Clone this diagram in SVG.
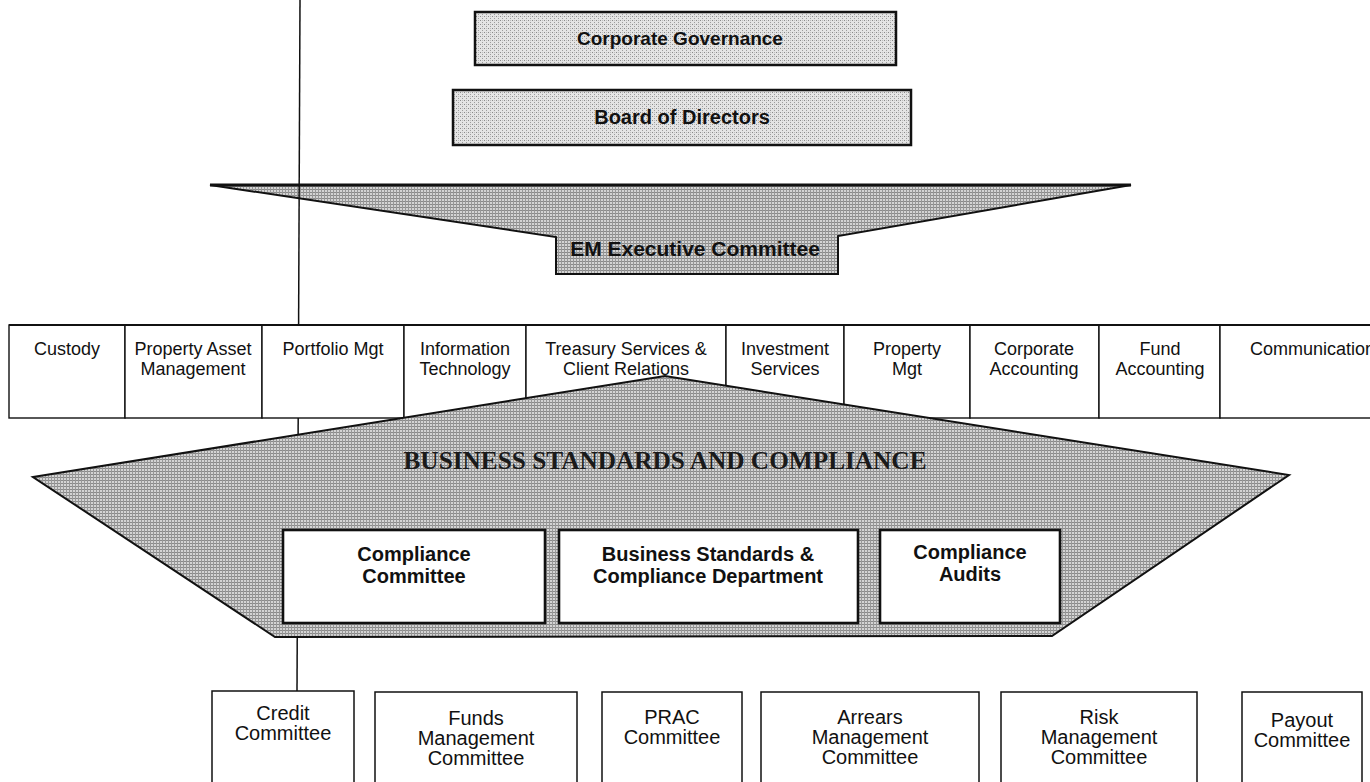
<svg xmlns="http://www.w3.org/2000/svg" width="1370" height="782" viewBox="0 0 1370 782">
<defs>
<pattern id="meshLight" width="4" height="4" patternUnits="userSpaceOnUse">
<rect width="4" height="4" fill="#e4e4e4"/>
<rect x="0" y="0" width="1" height="1" fill="#8a8a8a"/>
<rect x="2" y="2" width="1" height="1" fill="#9c9c9c"/>
<rect x="2" y="0" width="1" height="1" fill="#bdbdbd"/>
</pattern>
<pattern id="meshDark" width="3" height="3" patternUnits="userSpaceOnUse">
<rect width="3" height="3" fill="#d4d4d4"/>
<rect x="0" y="0" width="3" height="1" fill="#8a8a8a"/>
<rect x="0" y="0" width="1" height="3" fill="#989898"/>
</pattern>
<style>
.topbox{fill:url(#meshLight);stroke:#111;stroke-width:2.5}
.exec{fill:url(#meshDark);stroke:#111;stroke-width:2}
.big{fill:url(#meshDark);stroke:#111;stroke-width:2}
.dept{fill:#fff;stroke:#111;stroke-width:1.4}
.inner{fill:#fff;stroke:#111;stroke-width:2.6}
.comm{fill:#fff;stroke:#111;stroke-width:1.5}
.conn{stroke:#111;stroke-width:1.5;fill:none}
.tb{font-family:"Liberation Sans",Arial,sans-serif;font-weight:bold;font-size:20px;fill:#111;text-anchor:middle}
.td{font-family:"Liberation Sans",Arial,sans-serif;font-size:18px;fill:#111;text-anchor:middle}
.tc{font-family:"Liberation Sans",Arial,sans-serif;font-size:20px;fill:#111;text-anchor:middle}
.tbig{font-family:"Liberation Serif","Times New Roman",serif;font-weight:bold;font-size:26px;fill:#1a1a1a;text-anchor:middle}
</style>
</defs>
<rect width="1370" height="782" fill="#fff"/>

<g id="corporate-governance">
<rect class="topbox" x="475" y="12" width="421" height="53"/>
<text class="tb" x="680" y="45" style="font-size:19px">Corporate Governance</text>
</g>
<g id="board-of-directors">
<rect class="topbox" x="453" y="90" width="458" height="55"/>
<text class="tb" x="682" y="124">Board of Directors</text>
</g>
<g id="em-executive-committee">
<polygon class="exec" points="210,185 1131,185 838,236 838,274 556,274 556,237"/>
<line x1="210" y1="185" x2="1131" y2="185" stroke="#111" stroke-width="3"/>
<text class="tb" x="695" y="256" style="font-size:21px">EM Executive Committee</text>
</g>

<g id="connectors">
<line class="conn" x1="300" y1="0" x2="297" y2="691"/>
</g>

<g id="custody"><rect class="dept" x="9" y="325" width="116" height="93"/><text class="td" x="67" y="355">Custody</text></g>
<g id="property-asset-management"><rect class="dept" x="125" y="325" width="137" height="93"/><text class="td" x="193" y="355">Property Asset</text><text class="td" x="193" y="375">Management</text></g>
<g id="portfolio-mgt"><rect class="dept" x="262" y="325" width="142" height="93"/><text class="td" x="333" y="355">Portfolio Mgt</text></g>
<g id="information-technology"><rect class="dept" x="404" y="325" width="122" height="93"/><text class="td" x="465" y="355">Information</text><text class="td" x="465" y="375">Technology</text></g>
<g id="treasury-services"><rect class="dept" x="526" y="325" width="200" height="93"/><text class="td" x="626" y="355">Treasury Services &amp;</text><text class="td" x="626" y="375">Client Relations</text></g>
<g id="investment-services"><rect class="dept" x="726" y="325" width="118" height="93"/><text class="td" x="785" y="355">Investment</text><text class="td" x="785" y="375">Services</text></g>
<g id="property-mgt"><rect class="dept" x="844" y="325" width="126" height="93"/><text class="td" x="907" y="355">Property</text><text class="td" x="907" y="375">Mgt</text></g>
<g id="corporate-accounting"><rect class="dept" x="970" y="325" width="129" height="93"/><text class="td" x="1034" y="355">Corporate</text><text class="td" x="1034" y="375">Accounting</text></g>
<g id="fund-accounting"><rect class="dept" x="1099" y="325" width="121" height="93"/><text class="td" x="1160" y="355">Fund</text><text class="td" x="1160" y="375">Accounting</text></g>
<g id="communication"><rect class="dept" x="1220" y="325" width="170" height="93"/><text class="td" x="1250" y="355" style="text-anchor:start">Communicatior</text></g>
<line x1="9" y1="325" x2="1370" y2="325" stroke="#111" stroke-width="2"/>

<g id="business-standards-and-compliance">
<polygon class="big" points="33,477 665,376 1289,475 1052,636 275,637"/>
<text class="tbig" x="665" y="469" textLength="523" lengthAdjust="spacingAndGlyphs">BUSINESS STANDARDS AND COMPLIANCE</text>
</g>
<g id="compliance-committee">
<rect class="inner" x="283" y="530" width="262" height="93"/>
<text class="tb" x="414" y="561">Compliance</text><text class="tb" x="414" y="583">Committee</text>
</g>
<g id="bs-compliance-department">
<rect class="inner" x="559" y="530" width="299" height="93"/>
<text class="tb" x="708" y="561">Business Standards &amp;</text><text class="tb" x="708" y="583">Compliance Department</text>
</g>
<g id="compliance-audits">
<rect class="inner" x="880" y="530" width="180" height="93"/>
<text class="tb" x="970" y="559">Compliance</text><text class="tb" x="970" y="581">Audits</text>
</g>

<g id="credit-committee"><rect class="comm" x="212" y="691" width="142" height="100"/><text class="tc" x="283" y="720">Credit</text><text class="tc" x="283" y="740">Committee</text></g>
<g id="funds-management-committee"><rect class="comm" x="375" y="692" width="202" height="100"/><text class="tc" x="476" y="725">Funds</text><text class="tc" x="476" y="745">Management</text><text class="tc" x="476" y="765">Committee</text></g>
<g id="prac-committee"><rect class="comm" x="602" y="692" width="140" height="100"/><text class="tc" x="672" y="724">PRAC</text><text class="tc" x="672" y="744">Committee</text></g>
<g id="arrears-management-committee"><rect class="comm" x="761" y="692" width="218" height="100"/><text class="tc" x="870" y="724">Arrears</text><text class="tc" x="870" y="744">Management</text><text class="tc" x="870" y="764">Committee</text></g>
<g id="risk-management-committee"><rect class="comm" x="1001" y="692" width="196" height="100"/><text class="tc" x="1099" y="724">Risk</text><text class="tc" x="1099" y="744">Management</text><text class="tc" x="1099" y="764">Committee</text></g>
<g id="payout-committee"><rect class="comm" x="1242" y="692" width="120" height="100"/><text class="tc" x="1302" y="727">Payout</text><text class="tc" x="1302" y="747">Committee</text></g>
</svg>
